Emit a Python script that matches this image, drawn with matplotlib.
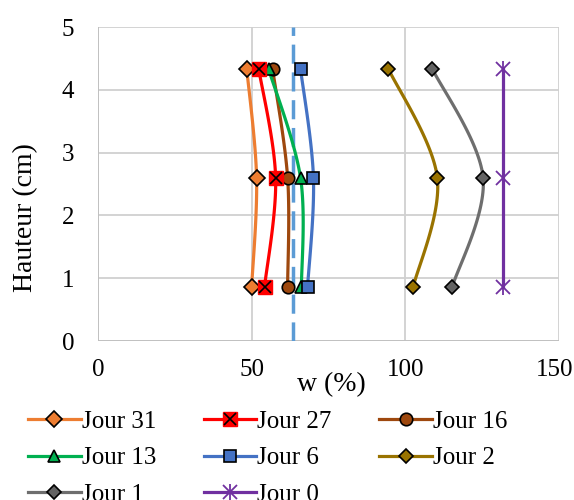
import numpy as np
import matplotlib.pyplot as plt
from matplotlib.legend_handler import HandlerTuple
from matplotlib.transforms import ScaledTranslation

plt.rcParams['font.family'] = ['Liberation Serif', 'DejaVu Serif']

# Heights of the three measurement levels (cm)
heights = [0.867, 2.6, 4.333]

# Water content w (%) at bottom, middle, top
jour31 = [50.0, 51.6, 48.4]
jour27 = [54.2, 57.8, 52.3]
jour16 = [61.7, 61.7, 56.8]
jour13 = [66.2, 65.9, 55.5]
jour6 = [68.2, 70.1, 65.9]
jour2 = [102.6, 110.4, 94.5]
jour1 = [115.3, 125.3, 108.8]
jour0 = [131.8, 131.8, 131.8]

w_limit = 63.6


def smooth(x, y, n=40):
    # Excel-style smoothed line (Catmull-Rom through the points)
    p = np.column_stack([x, y])
    p = np.vstack([p[0], p, p[-1]])
    out = []
    for i in range(1, len(p) - 2):
        p0, p1, p2, p3 = p[i - 1], p[i], p[i + 1], p[i + 2]
        c1 = p1 + (p2 - p0) / 6
        c2 = p2 - (p3 - p1) / 6
        t = np.linspace(0, 1, n)[:, None]
        out.append((1 - t) ** 3 * p1 + 3 * (1 - t) ** 2 * t * c1
                   + 3 * (1 - t) * t ** 2 * c2 + t ** 3 * p2)
    out = np.vstack(out)
    return out[:, 0], out[:, 1]


fig = plt.figure(figsize=(5.74, 5.0), dpi=100)
ax = fig.add_axes([98 / 574, 1 - 341 / 500, (559 - 98) / 574, (341 - 27) / 500])

lw = 2.3
ms = 9
handles = {}

series = [
    ("Jour 31", jour31, "#ED7D31", "D", "#ED7D31"),
    ("Jour 16", jour16, "#9E480E", "o", "#9E480E"),
    ("Jour 13", jour13, "#00B050", "^", "#00B050"),
    ("Jour 6", jour6, "#4472C4", "s", "#4472C4"),
    ("Jour 2", jour2, "#997300", "D", "#997300"),
    ("Jour 1", jour1, "#6E6E6E", "D", "#636363"),
]

ax.axvline(w_limit, color="#5B9BD5", lw=2.5, dashes=(5.5, 2.5), zorder=2)

for name, vals, col, mk, fc in series:
    sx, sy = smooth(vals, heights)
    ax.plot(sx, sy, color=col, lw=lw, zorder=3)
    size = ms
    if mk == "D":
        size = ms - 1 if name == "Jour 31" else ms - 2
    h = ax.plot(vals, heights, ls="none", marker=mk, ms=size, mfc=fc,
                mec="black", mew=1.2, zorder=5)[0]
    handles[name] = (ax.plot([], [], color=col, lw=lw)[0], h)

# Jour 27: red square with black cross
sx, sy = smooth(jour27, heights)
ax.plot(sx, sy, color="#FF0000", lw=lw, zorder=3)
sq = ax.plot(jour27, heights, ls="none", marker="s", ms=ms + 1, mfc="#FF0000",
             mec="#FF0000", zorder=5)[0]
cr = ax.plot(jour27, heights, ls="none", marker="x", ms=ms, mec="black",
             mew=1.2, zorder=6)[0]
handles["Jour 27"] = (ax.plot([], [], color="#FF0000", lw=lw)[0], sq, cr)

# Jour 0: purple star
ax.plot(jour0, heights, color="#7030A0", lw=lw, zorder=3)
st1 = ax.plot(jour0, heights, ls="none", marker="x", ms=ms + 1, mec="#7030A0",
              mew=1.3, zorder=5)[0]
st2 = ax.plot(jour0, heights, ls="none", marker="|", ms=ms + 3, mec="#7030A0",
              mew=1.3, zorder=5)[0]
handles["Jour 0"] = (ax.plot([], [], color="#7030A0", lw=lw)[0], st1, st2)

ax.set_xlim(0, 150)
ax.set_ylim(0, 5)
ax.set_xticks([0, 50, 100, 150])
ax.set_yticks([0, 1, 2, 3, 4, 5])
ax.grid(True, color="#D0D0D0", lw=1.3)
ax.set_axisbelow(True)
for s in ax.spines.values():
    s.set_visible(False)
ax.axhline(0, color="#BFBFBF", lw=1.3, zorder=1)
ax.axvline(0, color="#BFBFBF", lw=1.3, zorder=1)
ax.tick_params(length=0, labelsize=18)
ax.tick_params(axis="x", pad=13)
ax.tick_params(axis="y", pad=17)

# keep the last x label inside the picture
last = ax.get_xticklabels()[-1]
last.set_transform(last.get_transform() + ScaledTranslation(-4 / 100, 0, fig.dpi_scale_trans))

fig.text(26 / 574, 1 - 218 / 500, "Hauteur (cm)", fontsize=20, rotation=90,
         ha="center", va="center")
fig.text(331 / 574, 1 - 385 / 500, "w (%)", fontsize=20, ha="center", va="center")

order = ["Jour 31", "Jour 13", "Jour 1", "Jour 27", "Jour 6", "Jour 0",
         "Jour 16", "Jour 2"]
fig.legend([handles[k] for k in order], order, ncol=3, frameon=False,
           loc="upper left", bbox_to_anchor=(28 / 574, 1 - 410 / 500),
           fontsize=18, handlelength=2.1, handletextpad=0.05, columnspacing=1.9,
           labelspacing=0.57, borderaxespad=0, borderpad=0,
           handler_map={tuple: HandlerTuple(ndivide=1, pad=0)})

fig.savefig("out.png", dpi=100)
